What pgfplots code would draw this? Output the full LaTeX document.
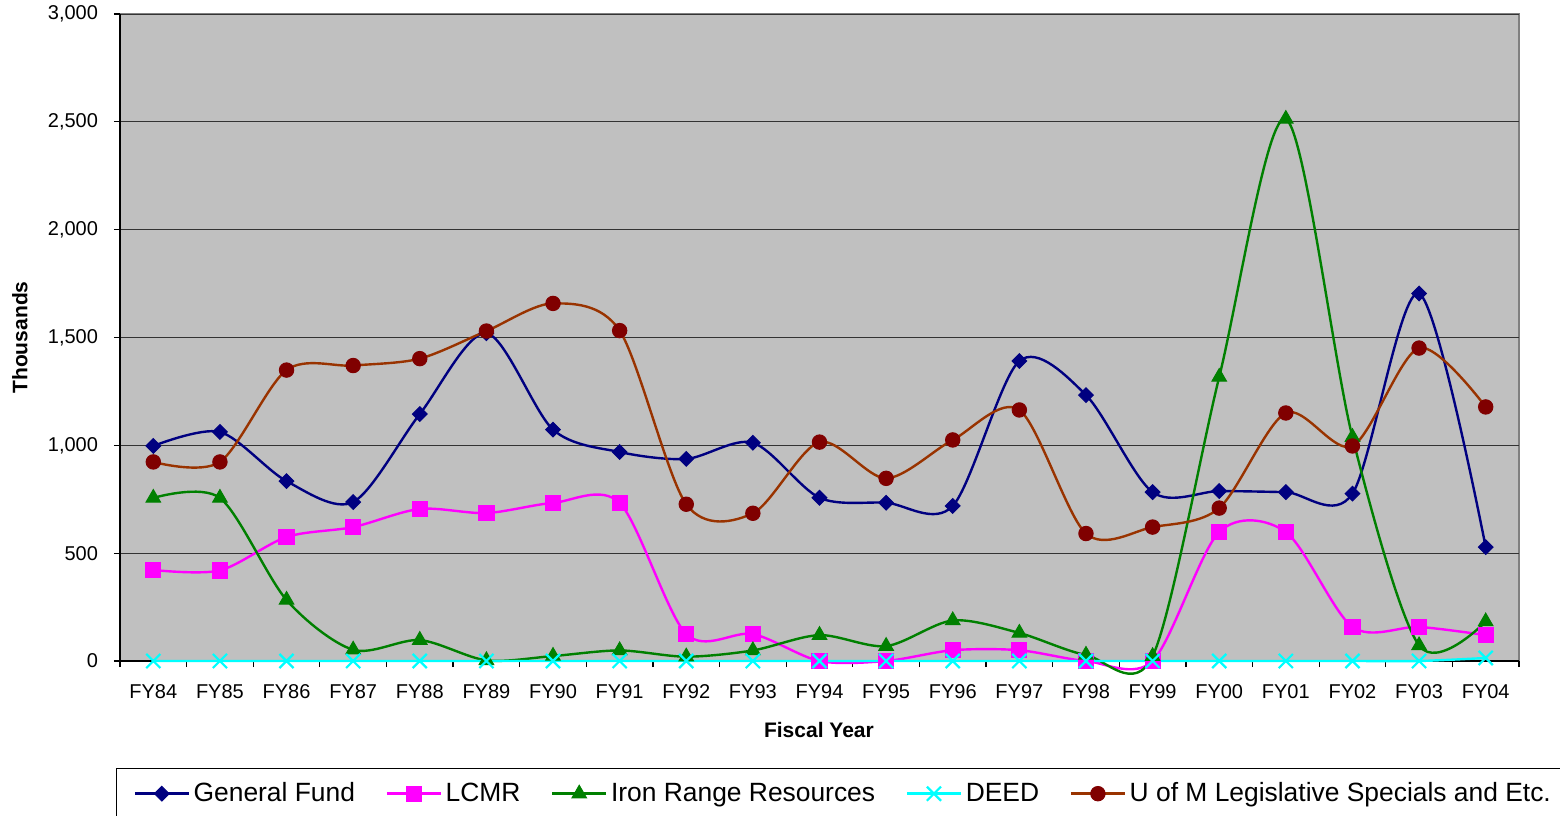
\documentclass[border=0pt]{standalone}
\usepackage{fontspec}
\setmainfont{Liberation Sans}
\usepackage{pgfplots}
\usepackage{pgfplotstable}
\pgfplotsset{compat=1.18}

\definecolor{gfblue}{HTML}{000080}
\definecolor{lcmrpink}{HTML}{FF00FF}
\definecolor{irrgreen}{HTML}{008000}
\definecolor{deedcyan}{HTML}{00FFFF}
\definecolor{umline}{HTML}{993300}
\definecolor{ummark}{HTML}{800000}
\definecolor{plotgray}{HTML}{C0C0C0}

% x: 0 = FY84 ... 20 = FY04, values in thousands
\pgfplotstableread{
x  gf    lcmr  irr   deed  um
0  997   422   756   0     923
1  1062  420   756   0     923
2  834   575   283   0     1349
3  737   621   52    0     1370
4  1145  705   97    0     1402
5  1520  686   3     0     1530
6  1073  733   23    0     1658
7  969   733   49    0     1532
8  937   125   20    0     727
9  1012  125   49    0     685
10 757   0     120   0     1015
11 734   0     69    0     847
12 719   50    188   0     1025
13 1391  50    130   0     1164
14 1233  0     28    0     591
15 783   0     22    0     621
16 788   598   1317  0     709
17 783   598   2513  0     1150
18 776   158   1038  0     997
19 1704  158   72    0     1451
20 528   120   183   14    1178
}\budget

\begin{document}
\begin{tikzpicture}
\useasboundingbox (0,0) rectangle (780pt,407.5pt);
\begin{axis}[
  at={(60pt,77pt)}, anchor=south west,
  scale only axis, width=699.5pt, height=323.5pt,
  xmin=-0.5, xmax=20.5, ymin=0, ymax=3000,
  clip=false,
  axis background/.style={fill=plotgray, draw=black!50, line width=0.8pt},
  axis x line*=bottom, axis y line*=left,
  axis line style={black, line width=0.8pt},
  xtick={0,...,20},
  xticklabels={FY84,FY85,FY86,FY87,FY88,FY89,FY90,FY91,FY92,FY93,FY94,FY95,FY96,FY97,FY98,FY99,FY00,FY01,FY02,FY03,FY04},
  minor xtick={-0.5,0.5,...,20.5},
  ytick={0,500,...,3000},
  tick align=outside,
  major tick length=3pt, minor tick length=3pt,
  x tick style={draw=none},
  minor x tick style={draw=black, line width=0.6pt},
  y tick style={black, line width=0.6pt},
  ymajorgrids,
  major grid style={black!80, line width=0.5pt},
  /pgf/number format/assume math mode=true,
  /pgf/number format/1000 sep={,},
  scaled y ticks=false,
  tick label style={font=\fontsize{10}{12}\selectfont},
  xticklabel style={yshift=-5pt},
  yticklabel style={xshift=-4.5pt},
  xlabel={Fiscal Year},
  ylabel={Thousands},
  label style={font=\fontsize{10.5}{12}\selectfont\bfseries},
  xlabel style={at={(axis description cs:0.4996,-0.1066)}, anchor=center},
  ylabel style={at={(axis description cs:-0.0715,0.5)}, anchor=center},
  every axis plot/.append style={smooth, line width=1.2pt},
  legend image code/.code={
    \draw[mark repeat=2, mark phase=2, #1]
      plot coordinates {(0pt,0pt) (13.5pt,0pt) (27pt,0pt)};
  },
  legend columns=5,
  legend style={
    at={(axis description cs:-0.00286,-0.1654)}, anchor=north west,
    draw=black, fill=white, line width=0.6pt,
    inner xsep=8.5pt, inner ysep=7pt,
    font=\fontsize{13.2}{15}\selectfont,
    nodes={inner sep=0pt},
    /tikz/every odd column/.append style={column sep=1.8pt},
    /tikz/every even column/.append style={column sep=15.3pt},
  },
]
\addplot[gfblue, mark=square*, mark size=2.6pt, mark options={rotate=45, fill=gfblue, draw=gfblue, line width=0.5pt}]
  table[x=x, y=gf] {\budget};
\addlegendentry{General Fund}
\addplot[lcmrpink, mark=square*, mark size=3.8pt, mark options={fill=lcmrpink, draw=lcmrpink, line width=0.5pt}]
  table[x=x, y=lcmr] {\budget};
\addlegendentry{LCMR}
\addplot[irrgreen, mark=triangle*, mark size=4.2pt, mark options={fill=irrgreen, draw=irrgreen, line width=0.5pt}]
  table[x=x, y=irr] {\budget};
\addlegendentry{Iron Range Resources}
\addplot[deedcyan, mark=x, mark size=5pt, mark options={draw=deedcyan, line width=1.1pt}]
  table[x=x, y=deed] {\budget};
\addlegendentry{DEED}
\addplot[umline, mark=*, mark size=3.6pt, mark options={fill=ummark, draw=ummark, line width=0.5pt}]
  table[x=x, y=um] {\budget};
\addlegendentry{U of M Legislative Specials and Etc.}
\end{axis}
\end{tikzpicture}
\end{document}
